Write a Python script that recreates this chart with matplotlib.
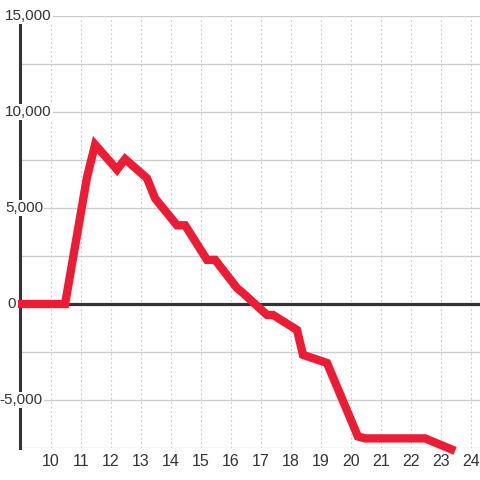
import matplotlib
matplotlib.use("Agg")
import matplotlib.pyplot as plt
import matplotlib.transforms as mtransforms

plt.rcParams['font.family'] = ['Liberation Sans', 'DejaVu Sans']

# valores
horas = [8.9, 10.47, 11.2, 11.47, 12.2, 12.47, 13.2, 13.47, 14.2, 14.47,
         15.2, 15.47, 16.2, 16.4, 17.2, 17.4, 18.2, 18.4, 19.2, 20.23,
         20.47, 22.47, 23.47]
valores = [0, 0, 6600, 8300, 7000, 7550, 6550, 5500, 4100, 4100,
           2300, 2300, 830, 570, -570, -570, -1350, -2650, -3070, -6900,
           -7000, -7000, -7650]

xticks = list(range(10, 25))
yticks = [-5000, 0, 5000, 10000, 15000]
ygrid = [-7500, -5000, -2500, 0, 2500, 5000, 7500, 10000, 12500, 15000]

cor_linha = '#ec1c35'
cor_texto = '#333333'

fig = plt.figure(figsize=(4.8, 4.8), dpi=100)
ax = fig.add_axes([20 / 480, 32 / 480, 460 / 480, 432 / 480])

ax.set_xlim(8.967, 24.3)
ax.set_ylim(-7500, 15000)

# grade
for v in ygrid:
    ax.axhline(v, color='#cccccc', lw=1, zorder=1)
for v in xticks:
    ax.axvline(v, color='#c8c8c8', lw=0.8, ls=(0, (1.5, 2.5)), zorder=1)

ax.axhline(0, color=cor_texto, lw=2.3, zorder=2)

for s in ['top', 'right', 'bottom']:
    ax.spines[s].set_visible(False)
ax.spines['left'].set_color(cor_texto)
ax.spines['left'].set_linewidth(2.2)
ax.spines['left'].set_zorder(3)

ax.plot(horas, valores, color=cor_linha, lw=6, solid_joinstyle='miter',
        solid_capstyle='butt', zorder=5, clip_on=False)

ax.set_xticks(xticks)
ax.set_xticklabels([str(v) for v in xticks], fontsize=11.5, color=cor_texto)
ax.tick_params(axis='x', length=0, pad=4)
ax.set_yticks([])

# rótulos do eixo y com fundo branco por cima do eixo
# borda direita de cada rótulo, em pixels desde a esquerda da figura
borda_px = [43, 16, 43, 52, 52]
trans = mtransforms.blended_transform_factory(fig.transFigure, ax.transData)
for v, px in zip(yticks, borda_px):
    ax.text(px / 480, v, f'{v:,}', transform=trans, ha='right', va='center',
            fontsize=11, color=cor_texto, zorder=4, clip_on=False,
            bbox=dict(facecolor='white', edgecolor='none', pad=1))

fig.savefig('out.png', dpi=100)
